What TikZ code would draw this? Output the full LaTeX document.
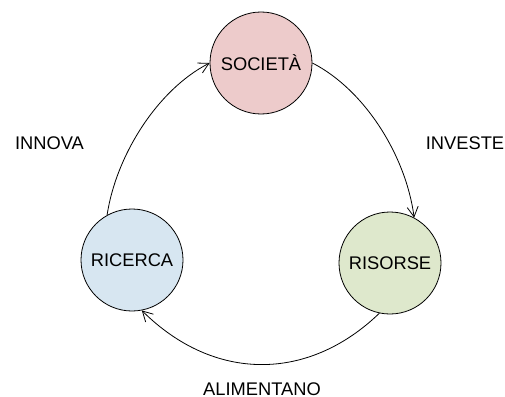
\documentclass[tikz,border=0pt]{standalone}
\usepackage{fontspec}
\setmainfont{Liberation Sans}
\usetikzlibrary{arrows.meta}
\definecolor{socfill}{HTML}{EDCBCB}
\definecolor{risfill}{HTML}{DEE8CC}
\definecolor{ricfill}{HTML}{D7E6F1}
\tikzset{
  blob/.style={circle, draw=black, line width=0.8pt, minimum size=102pt, inner sep=0pt,
    font=\fontsize{18.3}{21}\selectfont},
  lbl/.style={font=\fontsize{18.3}{21}\selectfont, inner sep=0pt},
  flow/.style={line width=0.8pt, -{Straight Barb[length=10pt,width=11pt,line width=0.8pt]}}
}
\begin{document}
\begin{tikzpicture}[x=1pt,y=-1pt]
\useasboundingbox (0,0) rectangle (505,396);
\node[blob, fill=socfill] (soc) at (261,63) {SOCIETÀ};
\node[blob, fill=risfill] (ris) at (390,263) {RISORSE};
\node[blob, fill=ricfill] (ric) at (132,260) {RICERCA};
\node[lbl] (innova) at (49.5,143) {INNOVA};
\node[lbl] (investe) at (465,143) {INVESTE};
\node[lbl, anchor=base] (alim) at (262,395) {ALIMENTANO};
\draw[flow] (soc.east) .. controls (365,90) and (406,156) .. (ris.62);
\draw[flow] (ris.-102) .. controls (308,382) and (214,382) .. (ric.-79);
\draw[flow] (ric.119) .. controls (116,156) and (157,90) .. (soc.west);
\end{tikzpicture}
\end{document}
